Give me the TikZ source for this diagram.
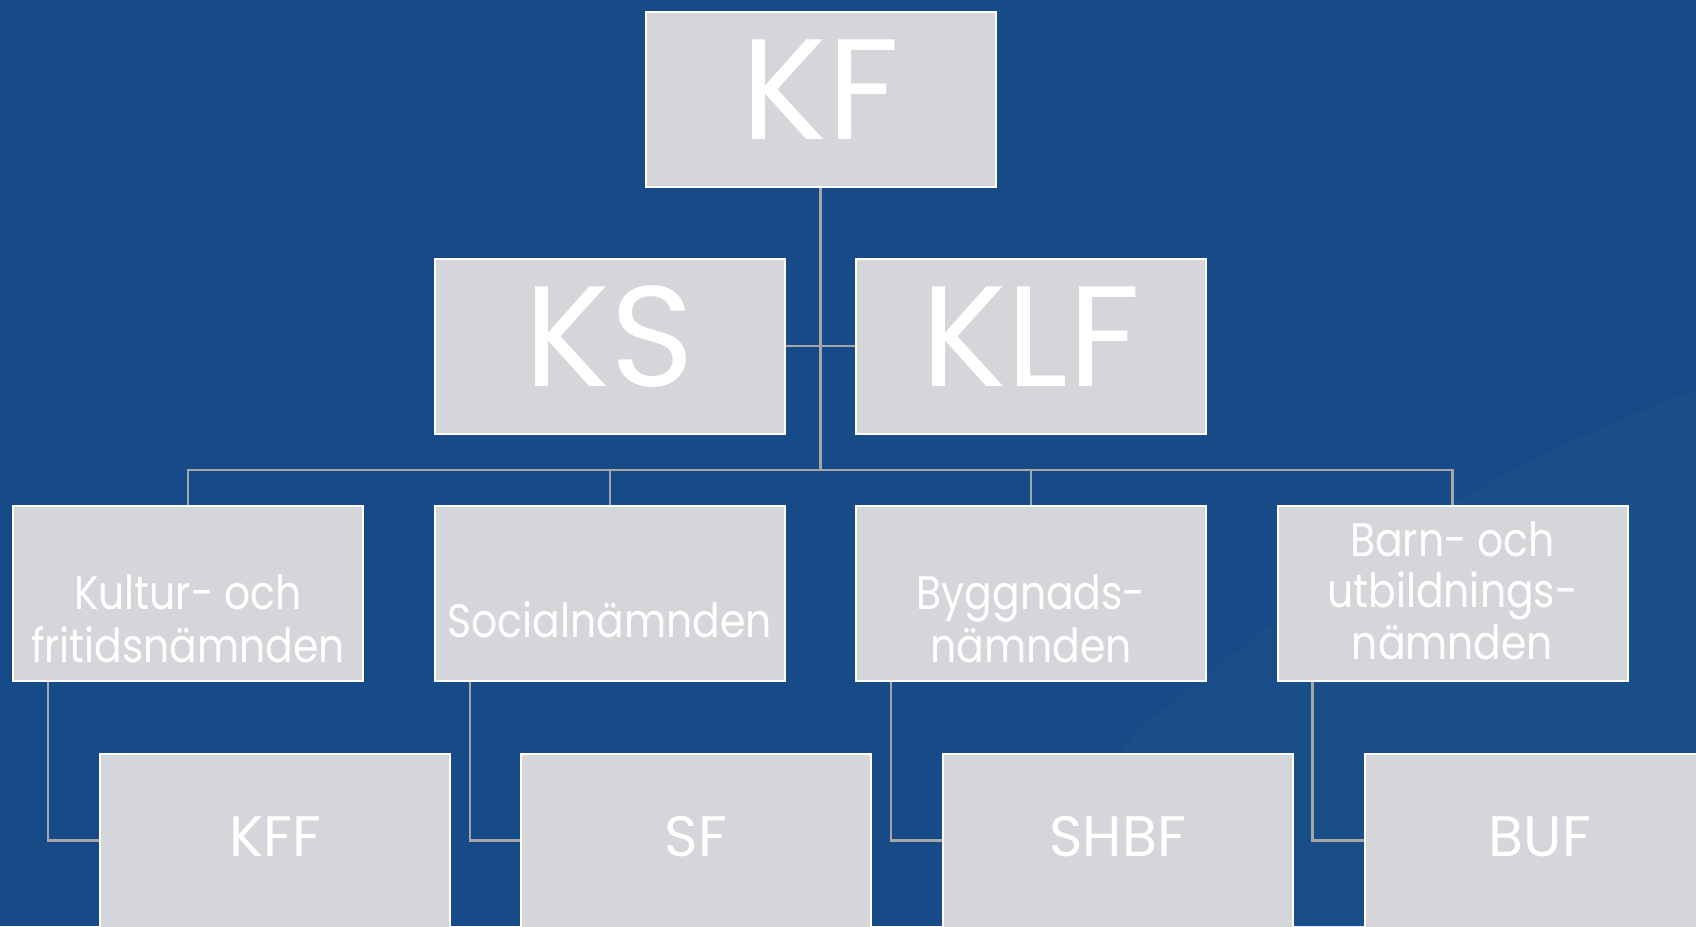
\documentclass[tikz,border=0pt]{standalone}
\usepackage{fontspec}
\setmainfont{Poppins}
\newfontfamily\narrowfont[FakeStretch=0.87]{Poppins}
\definecolor{bgblue}{HTML}{174B87}
\definecolor{bglight}{HTML}{1A4E89}
\definecolor{boxgray}{HTML}{D5D6DA}
\definecolor{linegray}{HTML}{A6A6A6}
\tikzset{
  orgbox/.style={draw=white, line width=2pt, fill=boxgray, minimum width=350pt, minimum height=175pt, inner sep=0pt},
  conn/.style={draw=linegray, line width=2.5pt},
  bigtxt/.style={text=white, font=\fontsize{143}{143}\selectfont, inner sep=0pt},
  midtxt/.style={text=white, font=\fontsize{57}{57}\selectfont, inner sep=0pt},
  smalltxt/.style={text=white, font=\narrowfont\fontsize{47}{47}\selectfont, inner sep=0pt, anchor=base},
}
\begin{document}
\begin{tikzpicture}[x=1pt, y=-1pt]
\fill[bgblue] (0,0) rectangle (1696,926);
\useasboundingbox (0,0) rectangle (1696,926);
\fill[bglight] (1696,390) .. controls (1450,480) and (1300,600) .. (1150,720) -- (950,926) -- (1696,926) -- cycle;

% boxes
\node[orgbox] (kf)  at (820.5,99) {};
\node[orgbox] (ks)  at (609.75,346) {};
\node[orgbox] (klf) at (1031,346) {};
\node[orgbox] (n1)  at (188,593.5) {};
\node[orgbox] (n2)  at (609.75,593.5) {};
\node[orgbox] (n3)  at (1031,593.5) {};
\node[orgbox] (n4)  at (1452.5,593.5) {};

% connectors
\coordinate (bus) at (820.5,470);
\draw[conn] (kf.south) -- (bus);
\draw[conn] (ks.east) -- (klf.west);
\draw[conn] (n1.north) |- (bus) -| (n4.north);
\draw[conn] (n2.north) -- (n2.north |- bus);
\draw[conn] (n3.north) -- (n3.north |- bus);

\node[orgbox] (f1) at (275,841) {};
\node[orgbox] (f2) at (696,841) {};
\node[orgbox] (f3) at (1117.5,841) {};
\node[orgbox] (f4) at (1540,841) {};

\draw[conn] ([xshift=36pt]n1.south west) |- ([yshift=0.5pt]f1.west);
\draw[conn] ([xshift=36pt]n2.south west) |- ([yshift=0.5pt]f2.west);
\draw[conn] ([xshift=36pt]n3.south west) |- ([yshift=0.5pt]f3.west);
\draw[conn] ([xshift=36pt]n4.south west) |- ([yshift=0.5pt]f4.west);

% texts
\node[bigtxt] (tkf)  at (820.5,90) {KF};
\node[bigtxt] (tks)  at (609.75,337) {KS};
\node[bigtxt] (tklf) at (1031,337) {KLF};

\node[smalltxt] (t1a) at (188,609) {Kultur- och};
\node[smalltxt] (t1b) at (188,662) {fritidsnämnden};
\node[smalltxt] (t2a) at (609.75,637) {Socialnämnden};
\node[smalltxt] (t3a) at (1031,609) {Byggnads-};
\node[smalltxt] (t3b) at (1031,662) {nämnden};
\node[smalltxt] (t4a) at (1452.5,556) {Barn- och};
\node[smalltxt] (t4b) at (1452.5,607) {utbildnings-};
\node[smalltxt] (t4c) at (1452.5,659) {nämnden};

\node[midtxt] (tf1) at (275,837) {KFF};
\node[midtxt] (tf2) at (696,837) {SF};
\node[midtxt] (tf3) at (1117.5,837) {SHBF};
\node[midtxt] (tf4) at (1540,837) {BUF};
\end{tikzpicture}
\end{document}
